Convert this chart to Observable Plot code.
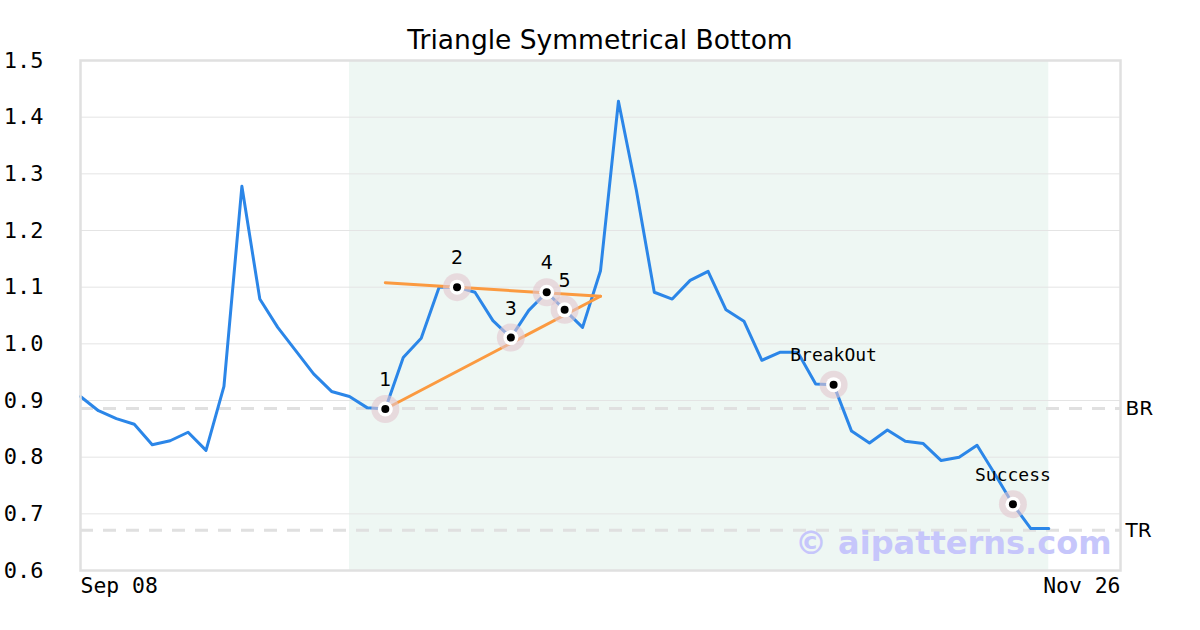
<!DOCTYPE html>
<html>
<head>
<meta charset="utf-8">
<script src="https://cdn.jsdelivr.net/npm/d3@7"></script>
<script src="https://cdn.jsdelivr.net/npm/@observablehq/plot@0.6"></script>
<style>
  html, body { margin: 0; padding: 0; background: #fff; }
  #wrap { position: relative; width: 1200px; height: 630px; }
  #title { position: absolute; top: 24px; left: 0; width: 1200px; text-align: center;
    font-family: "DejaVu Sans", sans-serif; font-size: 26.5px; line-height: 32px; color: #000; }
</style>
</head>
<body>
<div id="wrap">
  <div id="chart"></div>
  <div id="title">Triangle Symmetrical Bottom</div>
</div>
<script>
// ---- data ----
const prices = [0.907, 0.882, 0.868, 0.858, 0.822, 0.829, 0.844, 0.812, 0.925, 1.278,
  1.079, 1.029, 0.988, 0.947, 0.916, 0.907, 0.887, 0.885, 0.976, 1.010,
  1.100, 1.100, 1.091, 1.041, 1.011, 1.059, 1.091, 1.060, 1.029, 1.129,
  1.428, 1.271, 1.091, 1.079, 1.112, 1.128, 1.060, 1.040, 0.971, 0.985,
  0.985, 0.929, 0.928, 0.846, 0.825, 0.848, 0.828, 0.824, 0.794, 0.800,
  0.821, 0.770, 0.717, 0.674, 0.674];
const xDomain = [0, 58];
const xTickPositions = [0, 58];
const xTickLabels = ["Sep 08", "Nov 26"];
const yTicks = [0.6, 0.7, 0.8, 0.9, 1.0, 1.1, 1.2, 1.3, 1.4, 1.5];
const patternRange = [15, 54];
const upperTrend = [[17, 1.108], [29, 1.084]];
const lowerTrend = [[17, 0.885], [29, 1.084]];
const pointIdx = [17, 21, 24, 26, 27, 42, 52];
const pointLabels = ["1", "2", "3", "4", "5", "BreakOut", "Success"];
const levelNames = ["BR", "TR"];
const levelValues = [0.886, 0.671];

const series = prices.map((v, i) => ({i, v}));
const keyPoints = pointIdx.map((i, k) => ({i, v: prices[i], label: pointLabels[k], mono: k >= 5}));
const levels = levelNames.map((n, k) => ({name: n, v: levelValues[k]}));
const shade = [{x1: patternRange[0], x2: patternRange[1]}];
const trend = (arr) => arr.map(([i, v]) => ({i, v}));

const chart = Plot.plot({
  width: 1200,
  height: 630,
  marginLeft: 80,
  marginRight: 80,
  marginTop: 60,
  marginBottom: 60,
  style: {fontFamily: "DejaVu Sans Mono", fontSize: "20px", color: "#000", background: "transparent"},
  x: {type: "linear", domain: xDomain, label: null},
  y: {domain: [0.6, 1.5], label: null},
  marks: [
    Plot.rect(shade, {x1: "x1", x2: "x2", y1: 0.6, y2: 1.5, fill: "#eef7f3"}),
    Plot.gridY(yTicks, {stroke: "#e4e4e4", strokeOpacity: 1, strokeWidth: 1}),
    Plot.ruleY(levels, {y: "v", stroke: "#e0e0e0", strokeWidth: 3, strokeDasharray: "13,10"}),
    Plot.line(series, {x: "i", y: "v", stroke: "#2b86e8", strokeWidth: 3}),
    Plot.line(trend(upperTrend), {x: "i", y: "v", stroke: "#fb9a40", strokeWidth: 3}),
    Plot.line(trend(lowerTrend), {x: "i", y: "v", stroke: "#fb9a40", strokeWidth: 3}),
    Plot.dot(keyPoints, {x: "i", y: "v", r: 14, fill: "#e3c6cf", fillOpacity: 0.6, stroke: "none"}),
    Plot.dot(keyPoints, {x: "i", y: "v", r: 7.5, fill: "#fff", stroke: "none"}),
    Plot.dot(keyPoints, {x: "i", y: "v", r: 4, fill: "#000", stroke: "none"}),
    Plot.text(keyPoints.filter(d => !d.mono), {x: "i", y: "v", text: "label", dy: -29, fontFamily: "DejaVu Sans", fontSize: 19, fill: "#000"}),
    Plot.text(keyPoints.filter(d => d.mono), {x: "i", y: "v", text: "label", dy: -29, fontFamily: "DejaVu Sans Mono", fontSize: 18, fill: "#000"}),
    Plot.text(levels, {x: xDomain[1], y: "v", text: "name", dx: 5, textAnchor: "start", fontFamily: "DejaVu Sans", fontSize: 20, fill: "#000"}),
    Plot.text(["© aipatterns.com"], {frameAnchor: "bottom-right", dx: -9, dy: -17, lineAnchor: "bottom", fontFamily: "DejaVu Sans", fontWeight: "bold", fontSize: 32, fill: "#c6c6fb", fillOpacity: 1}),
    Plot.frame({stroke: "#e0e0e0", strokeWidth: 2.5}),
    Plot.axisY({ticks: yTicks, tickSize: 0, tickPadding: 37, tickFormat: d => d.toFixed(1), fontSize: 22, fontFamily: "DejaVu Sans Mono", label: null}),
    Plot.axisX({ticks: [xTickPositions[0]], tickSize: 0, tickPadding: 7, textAnchor: "start", tickFormat: () => xTickLabels[0], fontSize: 21.4, fontFamily: "DejaVu Sans Mono", label: null}),
    Plot.axisX({ticks: [xTickPositions[1]], tickSize: 0, tickPadding: 7, textAnchor: "end", tickFormat: () => xTickLabels[1], fontSize: 21.4, fontFamily: "DejaVu Sans Mono", label: null})
  ]
});
document.getElementById("chart").appendChild(chart);
</script>
</body>
</html>
